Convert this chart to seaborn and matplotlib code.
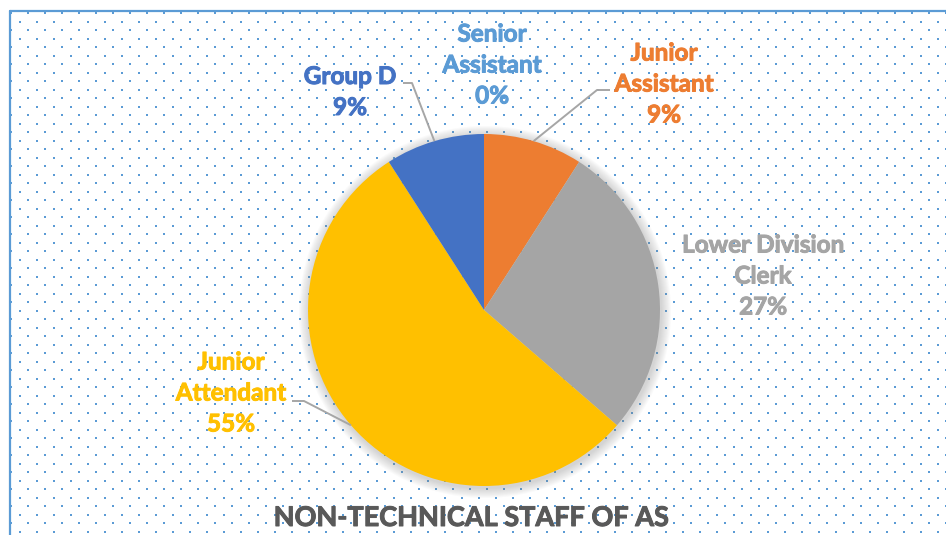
import matplotlib
matplotlib.use("Agg")
import matplotlib.pyplot as plt
import matplotlib.patheffects as pe
from matplotlib.patches import Circle
import numpy as np
import seaborn as sns

sns.set_theme(style="white")
plt.rcParams["font.family"] = ["Lato", "DejaVu Sans"]

# staff counts, going clockwise from 12 o'clock
roles = ["Senior\nAssistant", "Junior\nAssistant", "Lower Division\nClerk", "Junior\nAttendant", "Group D"]
staff = [0, 1, 3, 6, 1]
colors = ["#5B9BD5", "#ED7D31", "#A5A5A5", "#FFC000", "#4472C4"]
title = "NON-TECHNICAL STAFF OF AS"

W, H = 946, 535
# label centres in pixels (from top-left), and leader elbows (None = no leader)
label_xy = [(492, 65), (664, 84), (763, 276), (231, 393), (350, 92)]
elbows = [None, ((610, 90), (597, 90)), None, ((292, 401), (304, 401)), ((403, 83), (412, 83))]

fig = plt.figure(figsize=(W / 100, H / 100), dpi=100)
ax = fig.add_axes([0, 0, 1, 1])

# dotted background inside the chart frame
dot_x, dot_y = [], []
for j, y in enumerate(np.arange(13, H + 10, 8.5)):
    x0 = 11 if j % 2 == 0 else 19.5
    for x in np.arange(x0, W + 10, 17):
        dot_x.append(x)
        dot_y.append(H - y)
ax.scatter(dot_x, dot_y, s=3.2, marker="s", color="#5B9BD5", linewidths=0, zorder=0)

# frame (top and left edges visible)
ax.plot([10, W], [H - 11, H - 11], color="#5B9BD5", lw=1.6, zorder=1)
ax.plot([10, 10], [H - 11, 0], color="#5B9BD5", lw=1.6, zorder=1)

cx, cy, r = 484, H - 310, 176

# soft shadow round the pie
for k in range(10, 0, -1):
    ax.add_patch(Circle((cx + 1, cy - 2), r + k, color="#7F7F7F", alpha=0.035, lw=0, zorder=2))

wedges, _ = ax.pie(staff, colors=colors, startangle=90, counterclock=False,
                   center=(cx, cy), radius=r, frame=True,
                   wedgeprops=dict(linewidth=0, zorder=3))
ax.set_xlim(0, W)
ax.set_ylim(0, H)
ax.axis("off")

total = sum(staff)
for i, (w, role, n, col) in enumerate(zip(wedges, roles, staff, colors)):
    pct = round(100 * n / total)
    lx, ly = label_xy[i]
    ax.text(lx, H - ly, f"{role}\n{pct}%", ha="center", va="center", color=col,
            fontsize=17.5, fontweight="bold", linespacing=1.42, zorder=5,
            path_effects=[pe.withStroke(linewidth=0.7, foreground=col)])
    if elbows[i] is not None:
        ang = np.deg2rad((w.theta1 + w.theta2) / 2)
        ex, ey = cx + r * np.cos(ang), cy + r * np.sin(ang)
        (ax1, ay1), (ax2, ay2) = elbows[i]
        ax.plot([ax1, ax2, ex], [H - ay1, H - ay2, ey], color="#A6A6A6", lw=1.4,
                solid_capstyle="butt", zorder=4)

ax.text(471, H - 518, title, ha="center", va="center", color="#595959",
        fontsize=19.5, fontweight="bold", zorder=5,
        path_effects=[pe.withStroke(linewidth=0.7, foreground="#595959")])

fig.savefig("out.png", dpi=100, facecolor="white")
